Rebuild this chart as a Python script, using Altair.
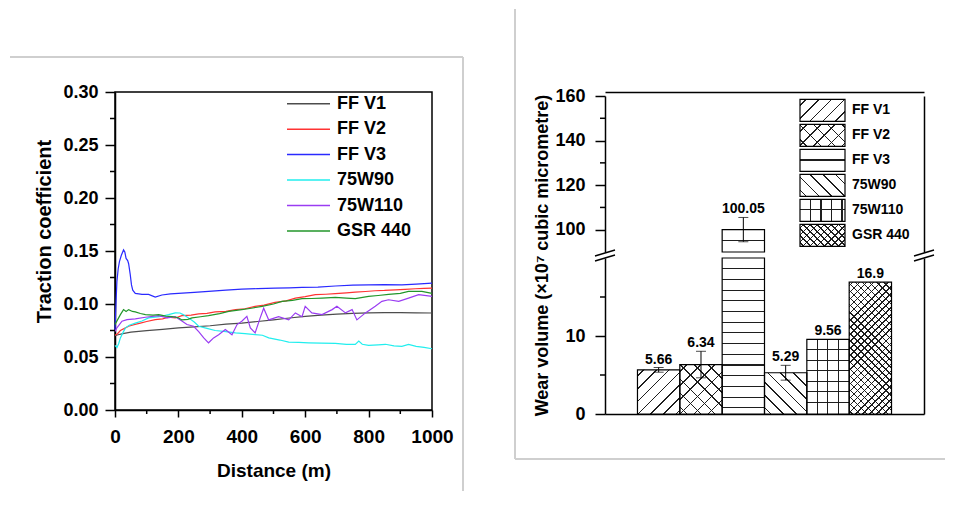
import math
import altair as alt
import pandas as pd

FONT = "Liberation Sans"

# ---------------- data: traction coefficient vs distance ----------------
series = ["FF V1", "FF V2", "FF V3", "75W90", "75W110", "GSR 440"]
line_colors = ["#4d4d4d", "#ff3333", "#2a2aff", "#22eeee", "#9a3cf2", "#22962a"]

d_ffv1 = [0, 10, 25, 50, 100, 150, 200, 250, 300, 350, 400, 450, 500, 550, 600, 650, 700, 750, 800, 850, 900, 950, 1000]
v_ffv1 = [0.070, 0.071, 0.072, 0.0735, 0.0748, 0.076, 0.0775, 0.0785, 0.0795, 0.081, 0.082, 0.0835, 0.085, 0.0868,
          0.0884, 0.0895, 0.0905, 0.0912, 0.0916, 0.0918, 0.0918, 0.0916, 0.0915]

d_ffv2 = [0, 8, 17, 30, 43, 60, 80, 100, 127, 150, 169, 190, 211, 240, 264, 290, 316, 350, 380, 410, 442, 470, 505,
          540, 569, 600, 632, 665, 695, 730, 758, 790, 821, 850, 884, 915, 947, 975, 1000]
v_ffv2 = [0.0706, 0.072, 0.075, 0.077, 0.079, 0.0805, 0.082, 0.0835, 0.0853, 0.086, 0.0875, 0.0868, 0.089, 0.0895,
          0.0906, 0.0912, 0.0925, 0.093, 0.0947, 0.0955, 0.0978, 0.099, 0.1016, 0.103, 0.1056, 0.107, 0.1088, 0.1092,
          0.1097, 0.1105, 0.1112, 0.1118, 0.1125, 0.1128, 0.1134, 0.1138, 0.1144, 0.1147, 0.115]

d_ffv3 = [0, 3, 6, 10, 14, 20, 27, 31, 35, 40, 43, 48, 52, 56, 64, 75, 85, 106, 127, 148, 175, 200, 250, 295, 350,
          400, 450, 505, 550, 590, 640, 695, 750, 800, 850, 905, 950, 1000]
v_ffv3 = [0.075, 0.100, 0.121, 0.133, 0.140, 0.146, 0.151, 0.149, 0.143, 0.141, 0.138, 0.128, 0.118, 0.113, 0.110,
          0.1095, 0.109, 0.109, 0.1066, 0.1085, 0.1095, 0.110, 0.111, 0.112, 0.113, 0.114, 0.1145, 0.115, 0.1152,
          0.1156, 0.116, 0.117, 0.1178, 0.118, 0.1182, 0.118, 0.1188, 0.1197]

d_75w90 = [0, 6, 12, 17, 25, 33, 45, 64, 85, 106, 140, 169, 190, 205, 215, 232, 250, 264, 290, 316, 350, 380, 410,
           442, 465, 485, 520, 548, 580, 611, 650, 695, 730, 758, 769, 780, 800, 830, 853, 880, 905, 926, 950, 975, 1000]
v_75w90 = [0.061, 0.0588, 0.063, 0.068, 0.073, 0.0775, 0.080, 0.082, 0.084, 0.0869, 0.088, 0.090, 0.0916, 0.0915,
           0.090, 0.0869, 0.083, 0.079, 0.077, 0.075, 0.074, 0.0728, 0.072, 0.0712, 0.0705, 0.068, 0.066, 0.064,
           0.0638, 0.0634, 0.063, 0.0628, 0.062, 0.0619, 0.065, 0.062, 0.061, 0.0615, 0.062, 0.0605, 0.060, 0.0619,
           0.060, 0.059, 0.0578]

d_75w110 = [0, 6, 22, 38, 64, 96, 138, 165, 190, 211, 227, 248, 264, 280, 295, 311, 327, 348, 369, 385, 400, 416,
            427, 442, 458, 469, 485, 516, 548, 569, 590, 600, 621, 653, 685, 700, 727, 748, 763, 790, 821, 842, 863,
            895, 926, 958, 1000]
v_75w110 = [0.074, 0.0775, 0.0838, 0.0853, 0.086, 0.0875, 0.089, 0.087, 0.088, 0.084, 0.0806, 0.079, 0.074, 0.068,
            0.0634, 0.068, 0.071, 0.076, 0.071, 0.0806, 0.0838, 0.0884, 0.0775, 0.0728, 0.0869, 0.096, 0.085, 0.088,
            0.085, 0.0916, 0.088, 0.0978, 0.0916, 0.09, 0.0947, 0.0978, 0.0916, 0.0947, 0.085, 0.0916, 0.0978,
            0.1025, 0.104, 0.1025, 0.1056, 0.1088, 0.1072]

d_gsr440 = [0, 8, 17, 27, 35, 43, 55, 64, 80, 96, 120, 138, 160, 180, 200, 211, 230, 243, 270, 295, 330, 359, 400,
            430, 464, 500, 527, 560, 590, 620, 653, 695, 730, 758, 800, 830, 863, 900, 926, 968, 1000]
v_gsr440 = [0.0806, 0.085, 0.09, 0.0947, 0.093, 0.0947, 0.093, 0.0925, 0.091, 0.090, 0.0895, 0.090, 0.0885, 0.088,
            0.087, 0.085, 0.0855, 0.0869, 0.088, 0.089, 0.091, 0.093, 0.0947, 0.096, 0.0978, 0.100, 0.1025, 0.1035,
            0.105, 0.1052, 0.1056, 0.1062, 0.1055, 0.105, 0.1072, 0.108, 0.109, 0.110, 0.1119, 0.1119, 0.110]

x_major = [0, 200, 400, 600, 800, 1000]
x_minor = [100, 300, 500, 700, 900]
y_major = [0.0, 0.05, 0.10, 0.15, 0.20, 0.25, 0.30]
y_minor = [0.025, 0.075, 0.125, 0.175, 0.225, 0.275]

# ---------------- data: wear volume ----------------
wear = [5.66, 6.34, 100.05, 5.29, 9.56, 16.9]
wear_err = [0.3, 1.7, 5.45, 0.95, 0.0, 0.0]
wear_labels = ["5.66", "6.34", "100.05", "5.29", "9.56", "16.9"]
low_major = [0, 10]
low_minor = [5, 15]
up_major = [100, 120, 140, 160]
up_minor = [110, 130, 150]

# hatch style per category: (direction, spacing px)
hatch = {
    "FF V1": [("d1", 9.0)],
    "FF V2": [("d1", 10.0), ("d2", 10.0)],
    "FF V3": [("h", 10.7)],
    "75W90": [("d2", 9.0)],
    "75W110": [("h", 10.5), ("v", 10.5)],
    "GSR 440": [("d1", 5.0), ("d2", 5.0)],
}


# ---------------- helpers ----------------
def stripes(w, h, kind, s, lw=1.1, color="#1e1e1e"):
    if kind == "h":
        L = h
        g = dict(x1=0, y1=0, x2=0, y2=1)
        p = s
    elif kind == "v":
        L = w
        g = dict(x1=0, y1=0, x2=1, y2=0)
        p = s
    else:
        kk = (w + h) / (w * w + h * h)
        L = (w + h) / math.sqrt(2)
        if kind == "d1":
            g = dict(x1=0, y1=0, x2=w * kk, y2=h * kk)
        else:
            g = dict(x1=0, y1=1, x2=w * kk, y2=1 - h * kk)
        p = s / 2
    stops = [(0.0, "transparent")]
    while p < L - 1.5:
        a = max(0.0, (p - lw / 2) / L)
        b = min(1.0, (p + lw / 2) / L)
        stops += [(a, "transparent"), (a, color), (b, color), (b, "transparent")]
        p += s
    stops.append((1.0, "transparent"))
    return alt.LinearGradient(
        gradient="linear",
        stops=[alt.GradientStop(offset=round(o, 5), color=c) for o, c in stops],
        **{key: round(val, 5) for key, val in g.items()},
    )


one = pd.DataFrame({"k": [0]})

# ================= left chart =================
LW, LH = 317, 318
rows = []
for name, ds, vs in [(series[0], d_ffv1, v_ffv1), (series[1], d_ffv2, v_ffv2), (series[2], d_ffv3, v_ffv3),
                     (series[3], d_75w90, v_75w90), (series[4], d_75w110, v_75w110), (series[5], d_gsr440, v_gsr440)]:
    for d, v in zip(ds, vs):
        rows.append({"series": name, "d": d, "v": v})
tdf = pd.DataFrame(rows)

xs = alt.Scale(domain=[0, 1000], nice=False, zero=False)
ys = alt.Scale(domain=[0, 0.3], nice=False, zero=False)
cs = alt.Scale(domain=series, range=line_colors)

lines = alt.Chart(tdf).mark_line(strokeWidth=1.2).encode(
    x=alt.X("d:Q", scale=xs, axis=alt.Axis(values=x_major, format="d", tickSize=7, labelPadding=10,
                                           labelFontSize=19, labelFlush=False, labelOverlap=False,
                                           title="Distance (m)", titleFontSize=19, titleX=LW / 2, titleY=66,
                                           titleAlign="center", titleBaseline="alphabetic")),
    y=alt.Y("v:Q", scale=ys, axis=alt.Axis(values=y_major, format=".2f", tickSize=10, labelPadding=7,
                                           labelFontSize=18, labelFlush=False, labelOverlap=False,
                                           title="Traction coefficient", titleFontSize=20, titleX=-65, titleY=139,
                                           titleAngle=-90, titleAlign="center", titleBaseline="alphabetic")),
    color=alt.Color("series:N", scale=cs, legend=None),
)

xm = alt.Chart(pd.DataFrame({"m": x_minor})).mark_rule(color="black", strokeWidth=1.5).encode(
    x=alt.X("m:Q", scale=xs, axis=None), y=alt.value(LH), y2=alt.value(LH + 4))
ym = alt.Chart(pd.DataFrame({"m": y_minor})).mark_rule(color="black", strokeWidth=1.5).encode(
    y=alt.Y("m:Q", scale=ys, axis=None), x=alt.value(-5), x2=alt.value(0))

leg_df = pd.DataFrame({"series": series})
leg_y = alt.Y("series:N", scale=alt.Scale(type="point", domain=series, range=[11.7, 139.0], padding=0), axis=None)
leg_rules = alt.Chart(leg_df).mark_rule(strokeWidth=1.5).encode(
    x=alt.value(172), x2=alt.value(215), y=leg_y, color=alt.Color("series:N", scale=cs, legend=None))
leg_text = alt.Chart(leg_df).mark_text(align="left", baseline="middle", font=FONT, fontWeight="bold",
                                       fontSize=18, color="black").encode(
    x=alt.value(222), y=leg_y, text="series:N")

frame_l1 = alt.Chart(one).mark_rule(color="#cfcfcf", strokeWidth=2).encode(
    x=alt.value(-105), x2=alt.value(348), y=alt.value(-35))
frame_l2 = alt.Chart(one).mark_rule(color="#cfcfcf", strokeWidth=2).encode(
    x=alt.value(348), y=alt.value(-35), y2=alt.value(399))

left = alt.layer(frame_l1, frame_l2, lines, xm, ym, leg_rules, leg_text).resolve_scale(
    y="independent").resolve_axis(x="independent").properties(
    width=LW, height=LH, view=alt.ViewBackground(stroke="black", strokeWidth=1.5))

# ================= right chart (broken y axis) =================
RW, RH = 319, 322
UP_RANGE = [160, 4]      # pixel range of upper segment (90 -> 160)
LOW_RANGE = [322, 166]   # pixel range of lower segment (0 -> 20)
PO = 0.767
BW = RW / (6 + 2 * PO)
LOW = [0, 20]
UP = [90, 160]

wdf = pd.DataFrame({"cat": series, "value": wear, "err": wear_err, "label": wear_labels})
wdf["lo"] = wdf["value"] - wdf["err"]
wdf["hi"] = wdf["value"] + wdf["err"]
wdf["top"] = wdf[["value", "hi"]].max(axis=1)
wdf["vlow"] = wdf["value"].clip(upper=LOW[1])

xb = alt.Scale(type="band", domain=series, paddingInner=0, paddingOuter=PO)
X = alt.X("cat:N", scale=xb, axis=None)
yl = alt.Scale(domain=LOW, range=LOW_RANGE, nice=False, zero=True)
yu = alt.Scale(domain=UP, range=UP_RANGE, nice=False, zero=False)
low_px = (LOW_RANGE[0] - LOW_RANGE[1]) / (LOW[1] - LOW[0])
up_px = (UP_RANGE[0] - UP_RANGE[1]) / (UP[1] - UP[0])

layers = []
# ----- lower segment -----
lb = alt.Chart(wdf)
layers.append(lb.mark_bar(fill="white", strokeWidth=0).encode(
    x=alt.X("cat:N", scale=xb, axis=alt.Axis(orient="bottom", labels=False, ticks=False, title=None)),
    y=alt.Y("vlow:Q", scale=yl, axis=alt.Axis(orient="left", values=low_major, tickSize=10, labelPadding=10,
                                              labelFontSize=18, labelFlush=False,
                                              title="Wear volume (×10⁷ cubic micrometre)", titleFontSize=18,
                                              titleX=-58, titleY=163, titleAngle=-90, titleAlign="center",
                                              titleBaseline="alphabetic"))))
for cat, val in zip(series, wear):
    h = min(val, LOW[1]) * low_px
    for kind, s in hatch[cat]:
        layers.append(lb.transform_filter(alt.datum.cat == cat).mark_bar(
            fill=stripes(BW, h, kind, s), strokeWidth=0).encode(x=X, y=alt.Y("vlow:Q", scale=yl, axis=None)))
layers.append(lb.mark_bar(fill="transparent", stroke="black", strokeWidth=1.2).encode(
    x=X, y=alt.Y("vlow:Q", scale=yl, axis=None)))
eb = lb.transform_filter("datum.err > 0 && datum.value < 20")
layers.append(eb.mark_rule(color="black", strokeWidth=1).encode(
    x=X, y=alt.Y("lo:Q", scale=yl, axis=None), y2="hi:Q"))
layers.append(eb.mark_tick(color="black", thickness=1, size=10).encode(
    x=X, y=alt.Y("hi:Q", scale=yl, axis=None)))
layers.append(eb.mark_tick(color="black", thickness=1, size=10).encode(
    x=X, y=alt.Y("lo:Q", scale=yl, axis=None)))
layers.append(lb.transform_filter("datum.value < 20").mark_text(
    baseline="bottom", dy=-1, font=FONT, fontWeight="bold", fontSize=14, color="black").encode(
    x=X, y=alt.Y("top:Q", scale=yl, axis=None), text="label:N"))
layers.append(alt.Chart(pd.DataFrame({"m": low_minor})).mark_rule(color="black", strokeWidth=1.5).encode(
    y=alt.Y("m:Q", scale=yl, axis=None), x=alt.value(-5), x2=alt.value(0)))
layers.append(lb.mark_point(opacity=0).encode(
    x=X, y=alt.Y("vlow:Q", scale=yl, axis=alt.Axis(orient="right", labels=False, ticks=False, title=None))))

# ----- upper segment -----
ub = alt.Chart(wdf).transform_filter("datum.value > 90")
layers.append(ub.mark_bar(fill="white", strokeWidth=0).encode(
    x=alt.X("cat:N", scale=xb, axis=alt.Axis(orient="top", labels=False, ticks=False, title=None)),
    y=alt.Y("value:Q", scale=yu, axis=alt.Axis(orient="left", values=up_major, tickSize=10, labelPadding=10,
                                               labelFontSize=18, labelFlush=False, title=None)),
    y2=alt.datum(UP[0])))
for cat, val in zip(series, wear):
    if val > UP[0]:
        h = (val - UP[0]) * up_px
        for kind, s in hatch[cat]:
            layers.append(ub.transform_filter(alt.datum.cat == cat).mark_bar(
                fill=stripes(BW, h, kind, s), strokeWidth=0).encode(
                x=X, y=alt.Y("value:Q", scale=yu, axis=None), y2=alt.datum(UP[0])))
layers.append(ub.mark_bar(fill="transparent", stroke="black", strokeWidth=1.2).encode(
    x=X, y=alt.Y("value:Q", scale=yu, axis=None), y2=alt.datum(UP[0])))
layers.append(ub.mark_rule(color="black", strokeWidth=1).encode(
    x=X, y=alt.Y("lo:Q", scale=yu, axis=None), y2="hi:Q"))
layers.append(ub.mark_tick(color="black", thickness=1, size=10).encode(
    x=X, y=alt.Y("hi:Q", scale=yu, axis=None)))
layers.append(ub.mark_tick(color="black", thickness=1, size=10).encode(
    x=X, y=alt.Y("lo:Q", scale=yu, axis=None)))
layers.append(ub.mark_text(baseline="bottom", dy=-1, font=FONT, fontWeight="bold", fontSize=14,
                           color="black").encode(x=X, y=alt.Y("top:Q", scale=yu, axis=None), text="label:N"))
layers.append(alt.Chart(pd.DataFrame({"m": up_minor})).mark_rule(color="black", strokeWidth=1.5).encode(
    y=alt.Y("m:Q", scale=yu, axis=None), x=alt.value(-5), x2=alt.value(0)))
layers.append(ub.mark_point(opacity=0).encode(
    x=X, y=alt.Y("value:Q", scale=yu, axis=alt.Axis(orient="right", labels=False, ticks=False, title=None))))

# ----- legend with hatched swatches -----
lg = alt.Chart(pd.DataFrame({"cat": series}))
lgy = alt.Y("cat:N", scale=alt.Scale(type="band", domain=series, range=[7.3, 154.3], paddingInner=0.12,
                                     paddingOuter=0), axis=None)
layers.append(lg.mark_rect(fill="white", strokeWidth=0).encode(x=alt.value(195), x2=alt.value(240), y=lgy))
for cat in series:
    for kind, s in hatch[cat]:
        layers.append(lg.transform_filter(alt.datum.cat == cat).mark_rect(
            fill=stripes(45, 22, kind, s), strokeWidth=0).encode(x=alt.value(195), x2=alt.value(240), y=lgy))
layers.append(lg.mark_rect(fill="transparent", stroke="black", strokeWidth=1.2).encode(
    x=alt.value(195), x2=alt.value(240), y=lgy))
layers.append(lg.mark_text(align="left", baseline="middle", font=FONT, fontWeight="bold", fontSize=14,
                           color="black").encode(x=alt.value(247), y=lgy, text="cat:N"))

# ----- axis-break marks and panel frame -----
for x0 in (0, RW):
    for yy in (161, 166):
        layers.append(alt.Chart(one).mark_rule(color="black", strokeWidth=1.5).encode(
            x=alt.value(x0 - 10), x2=alt.value(x0 + 10), y=alt.value(yy + 3), y2=alt.value(yy - 3)))
layers.append(alt.Chart(one).mark_rule(color="#cfcfcf", strokeWidth=2).encode(
    x=alt.value(-90), y=alt.value(-83), y2=alt.value(367)))
layers.append(alt.Chart(one).mark_rule(color="#cfcfcf", strokeWidth=2).encode(
    x=alt.value(-90), x2=alt.value(340), y=alt.value(367)))

right = alt.layer(*layers).resolve_scale(y="independent").resolve_axis(x="independent").properties(
    width=RW, height=RH)

chart = alt.hconcat(left, right, spacing=173, bounds="flush").properties(padding=0).configure_view(
    strokeWidth=0).configure_axis(
    labelFont=FONT, titleFont=FONT, labelFontWeight="bold", titleFontWeight="bold", labelColor="black",
    titleColor="black", domainColor="black", tickColor="black", domainWidth=1.5, tickWidth=1.5, grid=False)

chart.save("out.html", embed_options={"renderer": "svg", "actions": False})
